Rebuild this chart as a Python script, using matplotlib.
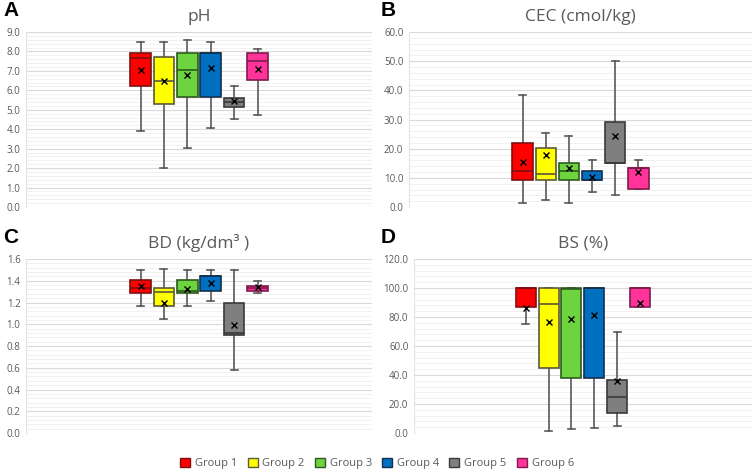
import matplotlib
matplotlib.use("Agg")
import matplotlib.pyplot as plt
from matplotlib.patches import Patch
from matplotlib.ticker import MultipleLocator

groups = ["Group 1", "Group 2", "Group 3", "Group 4", "Group 5", "Group 6"]
fills = ["#FF0000", "#FFFF00", "#6DD33F", "#0070C0", "#7F7F7F", "#FF3399"]
edges = ["#7F1010", "#5A5A3A", "#2E5A1E", "#14304F", "#3A3A3A", "#7F1A4A"]

# whisker low, q1, median, q3, whisker high, mean
ph_low = [3.9, 2.0, 3.05, 4.05, 4.55, 4.75]
ph_q1 = [6.22, 5.3, 5.65, 5.65, 5.14, 6.52]
ph_med = [7.65, 6.48, 7.03, 7.92, 5.38, 7.53]
ph_q3 = [7.92, 7.73, 7.92, 7.92, 5.63, 7.92]
ph_high = [8.5, 8.5, 8.6, 8.5, 6.22, 8.12]
ph_mean = [7.03, 6.47, 6.8, 7.15, 5.45, 7.1]

cec_low = [1.4, 2.3, 1.4, 5.3, 4.2, 6.3]
cec_q1 = [9.1, 9.1, 9.1, 9.1, 15.2, 6.3]
cec_med = [12.3, 11.3, 12.3, 9.1, 15.2, 13.3]
cec_q3 = [22.1, 20.2, 15.2, 12.3, 29.1, 13.3]
cec_high = [38.3, 25.3, 24.2, 16.2, 50.2, 16.2]
cec_mean = [15.3, 17.8, 13.4, 10.3, 24.2, 11.9]

bd_low = [1.17, 1.05, 1.17, 1.21, 0.58, 1.29]
bd_q1 = [1.29, 1.17, 1.29, 1.31, 0.90, 1.31]
bd_med = [1.33, 1.30, 1.31, 1.44, 0.92, 1.33]
bd_q3 = [1.41, 1.33, 1.41, 1.44, 1.20, 1.35]
bd_high = [1.50, 1.51, 1.50, 1.50, 1.50, 1.40]
bd_mean = [1.35, 1.20, 1.32, 1.38, 0.99, 1.34]

bs_low = [75.2, 1.6, 2.5, 3.7, 4.6, 86.7]
bs_q1 = [86.7, 44.8, 37.7, 37.7, 13.8, 86.7]
bs_med = [100.0, 89.0, 99.3, 100.0, 24.6, 100.0]
bs_q3 = [100.0, 100.0, 100.0, 100.0, 36.8, 100.0]
bs_high = [100.0, 100.0, 100.0, 100.0, 69.9, 100.0]
bs_mean = [86.2, 76.3, 78.4, 81.1, 36.1, 89.7]

plt.rcParams["font.family"] = ["Open Sans", "DejaVu Sans"]
fig = plt.figure(figsize=(7.54, 4.72), dpi=100)

def panel(rect, low, q1, med, q3, high, mean, ymax, ystep, title, letter):
    ax = fig.add_axes(rect)
    stats = []
    for i in range(len(groups)):
        stats.append(dict(whislo=low[i], q1=q1[i], med=med[i], q3=q3[i],
                          whishi=high[i], mean=mean[i], fliers=[]))
    pos = list(range(1, len(groups) + 1))
    bp = ax.bxp(stats, positions=pos, widths=0.88, patch_artist=True,
                showmeans=True, showfliers=False,
                whiskerprops=dict(color="#595959", lw=1.2),
                capprops=dict(color="#595959", lw=1.2),
                meanprops=dict(marker="x", markeredgecolor="black",
                               markersize=5, markeredgewidth=1.0),
                capwidths=0.3)
    for i, b in enumerate(bp["boxes"]):
        b.set_facecolor(fills[i])
        b.set_edgecolor(edges[i])
        b.set_linewidth(1.2)
        b.set_zorder(3)
    for i, m in enumerate(bp["medians"]):
        m.set_color(edges[i])
        m.set_linewidth(1.2)
        m.set_zorder(4)
    for m in bp["means"]:
        m.set_zorder(5)
    ax.set_xlim(3.5 - 7.4, 3.5 + 7.4)
    ax.set_ylim(0, ymax)
    ax.yaxis.set_major_locator(MultipleLocator(ystep))
    ax.yaxis.set_minor_locator(MultipleLocator(ystep / 5))
    ax.yaxis.set_major_formatter(lambda v, p: "%.1f" % v)
    ax.grid(axis="y", which="major", color="#D9D9D9", lw=0.8, zorder=0)
    ax.grid(axis="y", which="minor", color="#EFEFEF", lw=0.6, zorder=0)
    ax.set_axisbelow(True)
    ax.set_xticks([])
    for s in ["top", "right", "bottom"]:
        ax.spines[s].set_visible(False)
    ax.spines["left"].set_color("#E3E3E3")
    ax.tick_params(axis="y", which="both", length=0, labelsize=7,
                   labelcolor="#595959", pad=4)
    ax.set_title(title, fontsize=12.5, color="#595959", pad=8)
    bb = ax.get_position()
    fig.text(0.004 if bb.x0 < 0.5 else 0.505, bb.y1 + 0.045, letter,
             fontsize=15, fontweight="bold", family="Liberation Sans",
             va="center", ha="left")
    return ax

panel([0.0345, 0.5614, 0.459, 0.3708], ph_low, ph_q1, ph_med, ph_q3, ph_high,
      ph_mean, 9.0, 1.0, "pH", "A")
panel([0.5424, 0.5614, 0.455, 0.3708], cec_low, cec_q1, cec_med, cec_q3,
      cec_high, cec_mean, 60.0, 10.0, "CEC (cmol/kg)", "B")
panel([0.0345, 0.0826, 0.459, 0.3686], bd_low, bd_q1, bd_med, bd_q3, bd_high,
      bd_mean, 1.6, 0.2, "BD (kg/dm³ )", "C")
panel([0.549, 0.0826, 0.448, 0.3686], bs_low, bs_q1, bs_med, bs_q3, bs_high,
      bs_mean, 120.0, 20.0, "BS (%)", "D")

handles = [Patch(facecolor=fills[i], edgecolor=edges[i], lw=1.0)
           for i in range(len(groups))]
fig.legend(handles, groups, loc="lower center", ncol=6, frameon=False,
           bbox_to_anchor=(0.5, -0.015), fontsize=8, handlelength=0.9,
           handleheight=0.9, handletextpad=0.45, columnspacing=0.9,
           labelcolor="#595959")

fig.savefig("out.png", dpi=100)
